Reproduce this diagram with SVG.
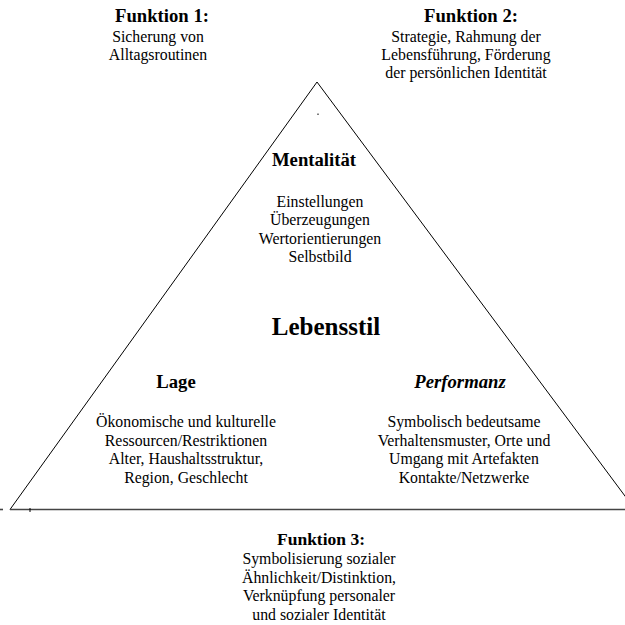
<svg xmlns="http://www.w3.org/2000/svg" width="625" height="625" viewBox="0 0 625 625">
<style>
text{font-family:"Liberation Serif",Tinos,"Times New Roman",serif;fill:#000;text-anchor:middle}
.h{font-weight:bold;font-size:18.7px}
.h3{font-weight:bold;font-size:17.5px}
.r{font-size:15.8px}
.big{font-weight:bold;font-size:25px}
.bi{font-weight:bold;font-style:italic;font-size:18.7px}
.edge{stroke:#000;stroke-width:1;fill:none}
.base{stroke:#444;stroke-width:1.6;fill:none}
</style>
<rect width="625" height="625" fill="#fff"/>
<g id="connectors">
<path class="edge" d="M10 509.5 L317 82 L635 509.5"/>
<path class="base" d="M10 509.5 H625"/>
<path class="base" d="M0 509.5 H3"/>
<path stroke="#000" stroke-width="1" d="M30 508 V512"/>
<path stroke="#000" stroke-width="1" d="M318 113.5 V115"/>
</g>
<g id="funktion1">
<text class="h" x="162" y="22">Funktion 1:</text>
<text class="r" x="158" y="41.5">Sicherung von</text>
<text class="r" x="158" y="60">Alltagsroutinen</text>
</g>
<g id="funktion2">
<text class="h" x="471" y="22">Funktion 2:</text>
<text class="r" x="466" y="41.5">Strategie, Rahmung der</text>
<text class="r" x="466" y="60">Lebensführung, Förderung</text>
<text class="r" x="466" y="78">der persönlichen Identität</text>
</g>
<g id="mentalitaet">
<text class="h" x="314" y="166">Mentalität</text>
<text class="r" x="320" y="207">Einstellungen</text>
<text class="r" x="320" y="225">Überzeugungen</text>
<text class="r" x="320" y="243.5">Wertorientierungen</text>
<text class="r" x="320" y="262">Selbstbild</text>
</g>
<g id="lebensstil">
<text class="big" x="326" y="335">Lebensstil</text>
</g>
<g id="lage">
<text class="h" x="176" y="388">Lage</text>
<text class="r" x="186" y="427">Ökonomische und kulturelle</text>
<text class="r" x="186" y="445.5">Ressourcen/Restriktionen</text>
<text class="r" x="186" y="464">Alter, Haushaltsstruktur,</text>
<text class="r" x="186" y="482.5">Region, Geschlecht</text>
</g>
<g id="performanz">
<text class="bi" x="460" y="388">Performanz</text>
<text class="r" x="464" y="427">Symbolisch bedeutsame</text>
<text class="r" x="464" y="445.5">Verhaltensmuster, Orte und</text>
<text class="r" x="464" y="464">Umgang mit Artefakten</text>
<text class="r" x="464" y="482.5">Kontakte/Netzwerke</text>
</g>
<g id="funktion3">
<text class="h3" x="321" y="545">Funktion 3:</text>
<text class="r" x="319" y="564">Symbolisierung sozialer</text>
<text class="r" x="319" y="582.5">Ähnlichkeit/Distinktion,</text>
<text class="r" x="319" y="601">Verknüpfung personaler</text>
<text class="r" x="319" y="619.5">und sozialer Identität</text>
</g>
</svg>
